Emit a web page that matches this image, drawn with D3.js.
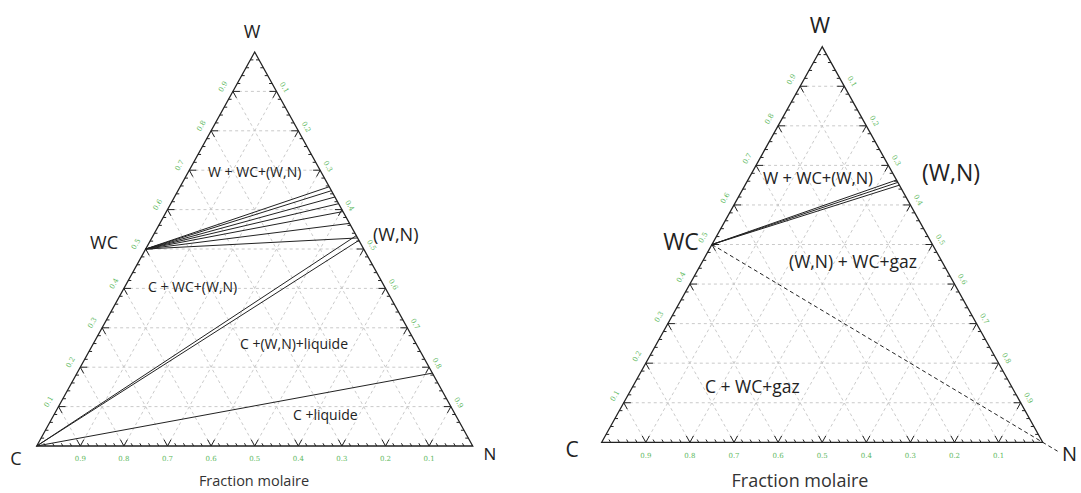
<!DOCTYPE html>
<html><head><meta charset="utf-8">
<script src="https://cdn.jsdelivr.net/npm/d3@7"></script>
<style>body{margin:0;background:#fff}svg{display:block}</style>
</head><body><svg id="c" width="1081" height="493"></svg>
<script>
// ---------- data ----------
const gridValues = [0.1,0.2,0.3,0.4,0.5,0.6,0.7,0.8,0.9];
const tickLabels = ["0.1","0.2","0.3","0.4","0.5","0.6","0.7","0.8","0.9"];
const vertexNames = ["W","C","N"];
const axisTitle = "Fraction molaire";
// WC compound on the W–C edge (fractions w, n)
const wcPoint = {w:0.5, n:0};
// Left diagram: tie-lines WC -> (W,N) solid solution, end points on W–N edge (N fraction)
const leftTieEndN = [0.342, 0.352, 0.368, 0.385, 0.405, 0.435, 0.472];
// Left diagram: C -> (W,N) double boundary, end N fractions on W–N edge
const leftCtoWNEndN = [0.466, 0.478];
// Left diagram: C -> liquid boundary, end N fraction on W–N edge
const leftLiquidEndN = [0.815];
const leftPhaseLabels = ["W + WC+(W,N)", "C + WC+(W,N)", "C +(W,N)+liquide", "C +liquide"];
const leftPointLabel = "(W,N)";
const leftWCLabel = "WC";
// Right diagram: tie-lines WC -> (W,N), end N fractions on W–N edge
const rightTieEndN = [0.337, 0.343, 0.350];
// Right diagram: dashed line WC -> N vertex, extended beyond N (parameter along line)
const rightDashedT = [0, 1.045];
const rightPhaseLabels = ["W + WC+(W,N)", "(W,N) + WC+gaz", "C + WC+gaz"];
const rightPointLabel = "(W,N)";
const rightWCLabel = "WC";

// ---------- layout ----------
const svg = d3.select("#c");
const FONT = "'Open Sans', 'DejaVu Sans', sans-serif";

const panels = [
  { x0:36.7, x1:472.7, yBase:446, yTop:52,
    vLabels:[{t:"W",x:252,y:38,s:18},{t:"C",x:16,y:465,s:18},{t:"N",x:490,y:460,s:17}],
    wcLabel:{x:104,y:249,s:18,anchor:"middle"}, wnLabel:{x:373,y:241,s:18},
    title:{x:254,y:486,s:14.5},
    phase:[{x:208,y:177,s:14},{x:148,y:292,s:14},{x:240,y:349,s:14},{x:293,y:420,s:14}],
    tick:{left:[-10,-5], right:[8,-4], bottom:13}, tickSize:7 },
  { x0:601.7, x1:1042.7, yBase:442.3, yTop:46.7,
    vLabels:[{t:"W",x:820,y:33,s:22},{t:"C",x:572,y:457,s:21},{t:"N",x:1062,y:461,s:20,anchor:"start"}],
    wcLabel:{x:681,y:250,s:23,anchor:"middle"}, wnLabel:{x:922,y:181,s:23},
    title:{x:800,y:487,s:18},
    phase:[{x:763,y:184,s:16.5},{x:789,y:268,s:17.5},{x:705,y:393,s:17.5}],
    tick:{left:[-9,-7], right:[8,-5], bottom:13.5}, tickSize:7 }
];

function makePanel(p){
  const xs = d3.scaleLinear().domain([0,1]).range([p.x0,p.x1]);
  const ys = d3.scaleLinear().domain([0,1]).range([p.yBase,p.yTop]);
  const P = (w,n) => [xs(n + w/2), ys(w)];
  return {xs, ys, P};
}

function drawFrame(g, p, T){
  const P = T.P;
  const line = d3.line();
  const grid = g.append("g").attr("stroke","#c4c4c4").attr("stroke-width",0.9)
    .attr("stroke-dasharray","3,3").attr("fill","none");
  gridValues.forEach(v=>{
    grid.append("path").attr("d", line([P(v,0), P(v,1-v)]));
    grid.append("path").attr("d", line([P(0,v), P(1-v,v)]));
    grid.append("path").attr("d", line([P(0,1-v), P(1-v,0)]));
  });
  g.append("path").attr("d", line([P(1,0),P(0,0),P(0,1)])+"Z")
    .attr("fill","none").attr("stroke","#222").attr("stroke-width",1.3);
  const tk = g.append("g").attr("stroke","#222").attr("stroke-width",1).attr("fill","none");
  const A = 0.016, m = 0.007;
  for(let i=1;i<50;i++){
    const v = i/50;
    if(i%5===0){
      tk.append("path").attr("d", line([P(A,1-v-A), P(0,1-v), P(A,1-v)]));
      tk.append("path").attr("d", line([P(v,A), P(v,0), P(v-A,A)]));
      tk.append("path").attr("d", line([P(1-v,v-A), P(1-v,v), P(1-v-A,v)]));
    } else {
      tk.append("path").attr("d", line([P(0,1-v), P(m,1-v-m)]));
      tk.append("path").attr("d", line([P(v,0), P(v,m)]));
      tk.append("path").attr("d", line([P(1-v,v), P(1-v,v-m)]));
    }
  }
  const tl = g.append("g").attr("fill","#5cb85c").attr("font-family","'DejaVu Serif', serif")
    .attr("font-size",p.tickSize).attr("text-anchor","middle");
  gridValues.forEach((v,i)=>{
    let [x,y] = P(v,0);
    x += p.tick.left[0]; y += p.tick.left[1];
    tl.append("text").attr("transform",`translate(${x},${y}) rotate(-60)`).attr("dy","0.35em").text(tickLabels[i]);
    [x,y] = P(1-v,v);
    x += p.tick.right[0]; y += p.tick.right[1];
    tl.append("text").attr("transform",`translate(${x},${y}) rotate(60)`).attr("dy","0.35em").text(tickLabels[i]);
    [x,y] = P(0,1-v);
    tl.append("text").attr("x",x).attr("y",y+p.tick.bottom).attr("dy","0.35em").text(tickLabels[i]);
  });
  p.vLabels.forEach((d,i)=>{
    g.append("text").attr("x",d.x).attr("y",d.y).attr("font-family",FONT)
      .attr("font-size",d.s).attr("fill","#222").attr("text-anchor",d.anchor||"middle").text(vertexNames[i]);
  });
  g.append("text").attr("x",p.title.x).attr("y",p.title.y).attr("font-family",FONT)
    .attr("font-size",p.title.s).attr("fill","#333").attr("text-anchor","middle").text(axisTitle);
}

function label(g, d, t){
  g.append("text").attr("x",d.x).attr("y",d.y).attr("font-family",FONT)
    .attr("font-size",d.s).attr("fill","#222").attr("text-anchor",d.anchor||"start").text(t);
}

// ---------- left ----------
{
  const p = panels[0], T = makePanel(p), P = T.P, line = d3.line();
  const g = svg.append("g");
  drawFrame(g, p, T);
  const lg = g.append("g").attr("stroke","#222").attr("stroke-width",1).attr("fill","none");
  leftTieEndN.forEach(n=> lg.append("path").attr("d", line([P(wcPoint.w,wcPoint.n), P(1-n,n)])));
  leftCtoWNEndN.forEach(n=> lg.append("path").attr("d", line([P(0,0), P(1-n,n)])));
  leftLiquidEndN.forEach(n=> lg.append("path").attr("d", line([P(0,0), P(1-n,n)])));
  label(g, p.wcLabel, leftWCLabel);
  label(g, p.wnLabel, leftPointLabel);
  leftPhaseLabels.forEach((t,i)=>label(g, p.phase[i], t));
}
// ---------- right ----------
{
  const p = panels[1], T = makePanel(p), P = T.P, line = d3.line();
  const g = svg.append("g");
  drawFrame(g, p, T);
  const lg = g.append("g").attr("stroke","#222").attr("stroke-width",1).attr("fill","none");
  rightTieEndN.forEach(n=> lg.append("path").attr("d", line([P(wcPoint.w,wcPoint.n), P(1-n,n)])));
  const a = rightDashedT.map(t=>P(wcPoint.w + (0-wcPoint.w)*t, wcPoint.n + (1-wcPoint.n)*t));
  lg.append("path").attr("d", line(a)).attr("stroke-dasharray","4,3");
  label(g, p.wcLabel, rightWCLabel);
  label(g, p.wnLabel, rightPointLabel);
  rightPhaseLabels.forEach((t,i)=>label(g, p.phase[i], t));
}
</script></body></html>
